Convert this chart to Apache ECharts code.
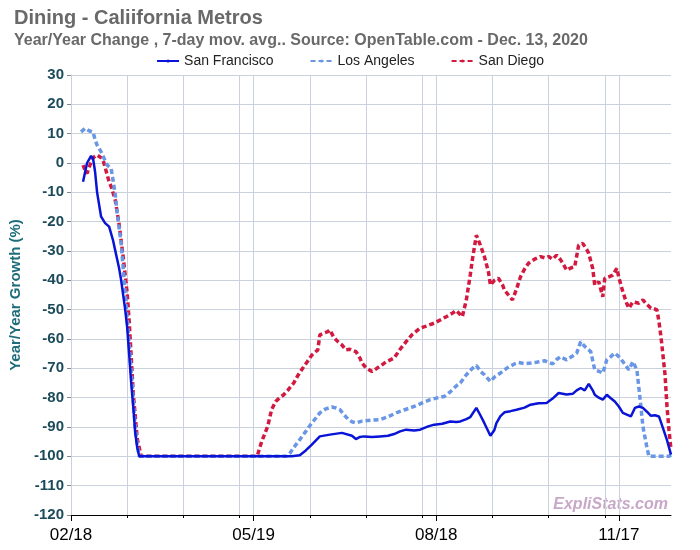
<!DOCTYPE html>
<html>
<head>
<meta charset="utf-8">
<script src="https://cdn.jsdelivr.net/npm/echarts@6/dist/echarts.min.js"></script>
<style>
  html, body { margin: 0; padding: 0; background: #fff; }
  #main { width: 700px; height: 550px; }
</style>
</head>
<body>
<div id="main"></div>
<script>
(function () {
    'use strict';

    // first day of the axis and how many days it covers
    var startDate = Date.UTC(2020, 1, 18);
    var dayCount = 300;

    // axis labels every 91 days, light grid lines every 28 days after each label
    var labelDays = [0, 91, 182, 273];
    var gridOffsets = [0, 28, 56, 84];

    var yTicks = [30, 20, 10, 0, -10, -20, -30, -40, -50, -60, -70, -80, -90, -100, -110, -120];

    // [day index from 02/18, year/year change %]
    var sanFrancisco = [
        [6, -6.4], [8, 0], [10, 2.4], [11, 1.5], [12, -3], [13, -10], [15, -18.3], [17, -20.5],
        [19, -21.7], [21, -26.5], [22, -29.7], [24, -36], [25, -40], [27, -50], [28, -56],
        [30, -75], [31, -83], [32, -92], [33, -97], [34, -100], [60, -100], [90, -100],
        [110, -100], [114, -99.6], [117, -98], [120, -96], [124, -93.2], [129, -92.6],
        [135, -92], [140, -93], [142, -94.1], [144, -93.4], [146, -93.2], [150, -93.4],
        [154, -93.2], [158, -93], [161, -92.4], [164, -91.5], [167, -90.9], [171, -91.2],
        [174, -90.9], [178, -89.8], [181, -89.2], [185, -88.9], [189, -88.1], [192, -88.3],
        [194, -88.1], [197, -87.3], [199, -86.6], [202, -83.5], [204, -86], [206, -88.7],
        [209, -93], [211, -91], [212, -88.7], [214, -86.3], [216, -85], [219, -84.6],
        [222, -84.1], [226, -83.4], [229, -82.4], [233, -81.9], [237, -81.8], [240, -80.3],
        [243, -78.4], [247, -78.9], [250, -78.7], [252, -77.5], [254, -76.7], [256, -77.5],
        [258, -75.3], [260, -77.5], [261, -79], [263, -80], [265, -80.7], [267, -79],
        [269, -80.2], [271, -81.3], [273, -83], [275, -85.2], [277, -85.8], [279, -86.4],
        [281, -83.5], [283, -83], [285, -83.5], [287, -84.8], [289, -86.2], [291, -86],
        [293, -86.4], [295, -90.4], [297, -94.5], [299, -99.4]
    ];

    var losAngeles = [
        [5, 10.6], [7, 11.8], [9, 11], [11, 10.5], [12, 8], [13, 6.1], [15, 3.8], [18, -0.7],
        [20, -1.8], [22, -10.4], [23, -17], [25, -27.4], [27, -44.4], [29, -62], [30, -71],
        [32, -89.8], [33, -96], [34, -100], [60, -100], [90, -100], [107, -100], [109, -99],
        [111, -97], [114, -94.3], [117, -91.5], [120, -88.6], [122, -87], [124, -85.2],
        [127, -83.8], [130, -83.2], [132, -83.5], [134, -84.1], [136, -85.8], [138, -87.3],
        [140, -88.2], [142, -88.6], [145, -88], [148, -87.8], [151, -87.6], [154, -87.5],
        [158, -86.5], [162, -85.2], [166, -84.2], [171, -83], [175, -81.8], [179, -80.7],
        [183, -80], [186, -79.6], [189, -78], [192, -76], [194, -75], [197, -72.2],
        [200, -70], [202, -69], [204, -71], [206, -72.2], [209, -74.5], [211, -73],
        [214, -71.6], [216, -70.5], [218, -69.6], [221, -68.5], [223, -68], [226, -68.4],
        [229, -68.2], [232, -67.9], [236, -67.4], [238, -68], [240, -68.5], [242, -67],
        [244, -66], [246, -66.8], [247, -67.1], [250, -65.8], [252, -64.8], [254, -60.9],
        [256, -62.5], [259, -64.3], [261, -70.5], [263, -71], [265, -71.6], [267, -67.1],
        [269, -66], [271, -64.8], [273, -66], [275, -67.7], [278, -70.5], [280, -67.7],
        [282, -70.5], [284, -83], [285, -89.8], [287, -97], [288, -100], [293, -100],
        [298, -100], [299, -99.5]
    ];

    var sanDiego = [
        [6, -0.7], [7, -2.5], [8, -3.6], [9, -1.5], [10, 0.2], [11, 1.8], [13, 2.7],
        [15, 1.8], [16, 1], [17, -1.5], [19, -6.4], [20, -8], [22, -12.5], [24, -21],
        [26, -32], [28, -44.4], [29, -54], [30, -66], [31, -78.4], [32, -86], [33, -94],
        [35, -100], [60, -100], [92, -100], [93, -99.4], [95, -95], [98, -89.8], [100, -84],
        [102, -81.3], [104, -80], [106, -79], [108, -77.5], [111, -75], [113, -72.5],
        [116, -69.4], [118, -67.5], [120, -65.5], [123, -63.7], [124, -58.6], [126, -58],
        [128, -57.5], [129, -56.9], [131, -59.5], [133, -60.9], [135, -62], [137, -63.7],
        [139, -63.5], [142, -64.3], [144, -66.5], [145, -68.2], [147, -69.8], [150, -71.1],
        [152, -70.2], [155, -68.8], [157, -67.8], [161, -66.5], [164, -63.5], [167, -60.9],
        [170, -58.5], [174, -56.3], [177, -55.6], [181, -54.6], [184, -53.5], [187, -52.4],
        [190, -51.2], [192, -50.3], [195, -52.4], [197, -46.7], [199, -38], [200, -33],
        [202, -24.6], [204, -28], [206, -31.9], [208, -37], [209, -41.6], [211, -40],
        [213, -39.3], [215, -41.5], [216, -43.3], [218, -45], [220, -46.7], [222, -43],
        [224, -38.8], [226, -36.2], [228, -34.2], [231, -32.8], [234, -31.9], [236, -32.3],
        [238, -31.9], [240, -32.8], [242, -31.4], [244, -33], [247, -36.5], [249, -35.8],
        [251, -35.4], [253, -28], [255, -27.4], [257, -29.5], [258, -30.8], [260, -36],
        [261, -41.6], [263, -40.5], [265, -45.6], [266, -39.3], [268, -38.8], [270, -38.2],
        [272, -35.9], [273, -39], [275, -43.9], [277, -48], [278, -49.5], [280, -47.3],
        [283, -47.8], [285, -46.7], [287, -48.2], [289, -49.5], [291, -49.8], [292, -50.1],
        [293, -54], [294, -59.2], [296, -72], [297, -83], [298, -91], [299, -97.7]
    ];

    var categories = [];
    for (var i = 0; i < dayCount; i++) {
        var dt = new Date(startDate + i * 86400000);
        var mm = ('0' + (dt.getUTCMonth() + 1)).slice(-2);
        var dd = ('0' + dt.getUTCDate()).slice(-2);
        categories.push(mm + '/' + dd);
    }

    function isLabelDay(idx) {
        return labelDays.indexOf(idx) >= 0;
    }
    function isGridDay(idx) {
        for (var k = 0; k < labelDays.length; k++) {
            for (var j = 0; j < gridOffsets.length; j++) {
                if (labelDays[k] + gridOffsets[j] === idx) return true;
            }
        }
        return false;
    }

    var gridColor = '#c9d2dc';
    var chart = echarts.init(document.getElementById('main'));

    var option = {
        backgroundColor: '#ffffff',
        animation: false,
        title: [{
            text: 'Dining - Caliifornia Metros',
            left: 9,
            top: 3,
            textStyle: { fontFamily: 'Liberation Sans', fontSize: 20, fontWeight: 'bold', color: '#696969' }
        }, {
            text: 'Year/Year Change , 7-day mov. avg.. Source: OpenTable.com - Dec. 13, 2020',
            left: 9,
            top: 28,
            textStyle: { fontFamily: 'Liberation Sans', fontSize: 16, fontWeight: 'bold', color: '#696969' }
        }],
        legend: {
            top: 49,
            left: 'center',
            itemWidth: 22,
            itemHeight: 4,
            itemGap: 36,
            textStyle: { fontFamily: 'Liberation Sans', fontSize: 14, color: '#222' },
            data: ['San Francisco', 'Los Angeles', 'San Diego']
        },
        grid: { left: 71, right: 29, top: 75, bottom: 35 },
        xAxis: [{
            type: 'category',
            data: categories,
            boundaryGap: false,
            axisLine: { onZero: false, lineStyle: { color: '#000', width: 1 } },
            axisTick: {
                show: true,
                length: 3,
                interval: function (idx) { return isGridDay(idx); },
                lineStyle: { color: '#000' }
            },
            axisLabel: {
                interval: function (idx) { return isLabelDay(idx); },
                fontFamily: 'Liberation Sans',
                fontSize: 17,
                color: '#000',
                margin: 12
            },
            splitLine: {
                show: true,
                interval: function (idx) { return isGridDay(idx); },
                lineStyle: { color: gridColor, width: 1 }
            }
        }, {
            type: 'category',
            data: categories,
            boundaryGap: false,
            position: 'bottom',
            offset: 0,
            axisLine: { show: false, onZero: false },
            axisTick: {
                show: true,
                length: 6,
                interval: function (idx) { return isLabelDay(idx); },
                lineStyle: { color: '#000' }
            },
            axisLabel: { show: false },
            splitLine: { show: false }
        }],
        yAxis: {
            type: 'value',
            min: yTicks[yTicks.length - 1],
            max: yTicks[0],
            interval: 10,
            name: 'Year/Year Growth (%)',
            nameLocation: 'middle',
            nameGap: 48,
            nameRotate: 90,
            nameTextStyle: { fontFamily: 'Liberation Sans', fontSize: 15, fontWeight: 'bold', color: '#1d6d7a' },
            axisLine: { show: true, lineStyle: { color: gridColor } },
            axisTick: { show: true, length: 4, lineStyle: { color: '#888' } },
            axisLabel: { fontFamily: 'Liberation Sans', fontSize: 15, fontWeight: 'bold', color: '#1b4a5a', margin: 7 },
            splitLine: { lineStyle: { color: gridColor, width: 1 } }
        },
        graphic: [{
            type: 'text',
            right: 32,
            top: 497,
            style: {
                text: 'ExpliStats.com',
                font: 'italic bold 16px "Liberation Sans"',
                fill: '#c8a8c8'
            }
        }],
        series: [{
            name: 'San Francisco',
            type: 'line',
            data: sanFrancisco,
            showSymbol: false,
            symbol: 'none',
            z: 4,
            lineStyle: { color: '#0a14d6', width: 2.5, type: 'solid' },
            itemStyle: { color: '#0a14d6' }
        }, {
            name: 'Los Angeles',
            type: 'line',
            data: losAngeles,
            showSymbol: false,
            symbol: 'none',
            z: 3,
            lineStyle: { color: '#6a96e6', width: 3.5, type: [5, 3] },
            itemStyle: { color: '#6a96e6' }
        }, {
            name: 'San Diego',
            type: 'line',
            data: sanDiego,
            showSymbol: false,
            symbol: 'none',
            z: 2,
            lineStyle: { color: '#d2193f', width: 3.5, type: [5, 3] },
            itemStyle: { color: '#d2193f' }
        }]
    };

    chart.setOption(option);
}());
</script>
</body>
</html>
